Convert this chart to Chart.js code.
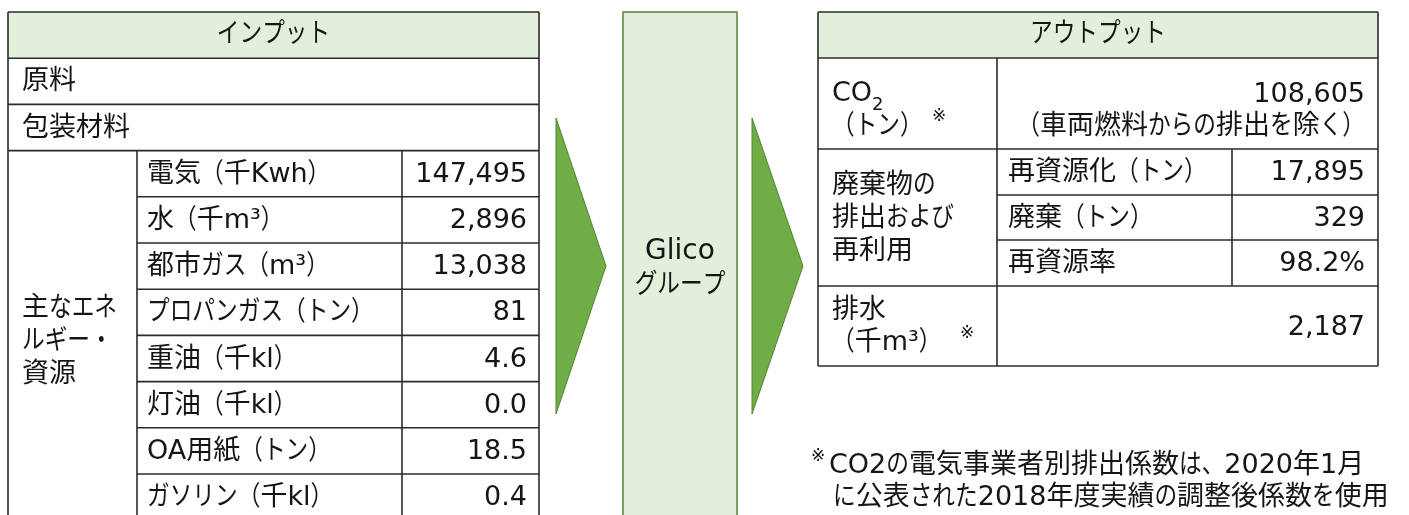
<!DOCTYPE html>
<html lang="ja">
  <head>
    <meta charset="UTF-8" />
    <title>インプット・アウトプット</title>
    <script src="https://cdn.jsdelivr.net/npm/chart.js"></script>
    <style>
      body { margin: 0; background: #fff; }
      #wrap { width: 1409px; height: 515px; }
    </style>
  </head>
  <body>
    <div id="wrap"><canvas id="flowChart"></canvas></div>

    <script>
      // 表の中身 (インプット)
      const inputHeader = "インプット";
      const inputTopRows = ["原料", "包装材料"];
      const energyGroup = ["主なエネ", "ルギー・", "資源"];
      const energyItems = ["電気（千Kwh）", "水（千m³）", "都市ガス（m³）", "プロパンガス（トン）", "重油（千kl）", "灯油（千kl）", "OA用紙（トン）", "ガソリン（千kl）"];
      const energyValues = [147495, 2896, 13038, 81, 4.6, 0.0, 18.5, 0.4];
      const energyDecimals = [0, 0, 0, 0, 1, 1, 1, 1];

      // 中央
      const centerLabel = ["Glico", "グループ"];

      // アウトプット
      const outputHeader = "アウトプット";
      const co2Value = 108605;
      const co2Note = "（車両燃料からの排出を除く）";
      const wasteGroup = ["廃棄物の", "排出および", "再利用"];
      const wasteItems = ["再資源化（トン）", "廃棄（トン）", "再資源率"];
      const wasteValues = [17895, 329, 98.2];
      const wasteSuffix = ["", "", "%"];
      const drainValue = 2187;
      const footNote = ["CO2の電気事業者別排出係数は、2020年1月", "に公表された2018年度実績の調整後係数を使用"];

      const FONT = "'DejaVu Sans', 'Noto Sans CJK JP', sans-serif";
      const TEXT = "#151515";
      const LINE = "#2b2b2b";
      const HEAD_FILL = "#e2efda";
      const GREEN = "#70ad47";
      const GREEN_DARK = "#548235";
      const KANA_SCALE = 0.84; // かな・全角括弧は少し細め

      function fmt(v, d) {
        return d > 0 ? v.toFixed(d) : v.toLocaleString("en-US");
      }

      function isNarrow(ch) {
        const c = ch.charCodeAt(0);
        return (c >= 0x3040 && c <= 0x30ff) || c === 0xff08 || c === 0xff09 || c === 0x3001 || c === 0x3002;
      }

      const diagramPlugin = {
        id: "diagram",
        afterDraw(chart) {
          const { ctx } = chart;
          const sx = chart.scales.x;
          const sy = chart.scales.y;
          const px = (v) => sx.getPixelForValue(v);
          const py = (v) => sy.getPixelForValue(v);

          function hline(x0, x1, y) {
            ctx.beginPath();
            ctx.moveTo(px(x0), py(y));
            ctx.lineTo(px(x1), py(y));
            ctx.stroke();
          }
          function vline(x, y0, y1) {
            ctx.beginPath();
            ctx.moveTo(px(x), py(y0));
            ctx.lineTo(px(x), py(y1));
            ctx.stroke();
          }

          // 文字列を「かな」と「それ以外」に分けて描く
          function text(str, x, y, align, size) {
            ctx.font = (size || 27) + "px " + FONT;
            ctx.textBaseline = "middle";
            ctx.textAlign = "left";
            ctx.fillStyle = TEXT;
            const runs = [];
            for (const ch of str) {
              const s = isNarrow(ch) ? KANA_SCALE : 1;
              if (runs.length && runs[runs.length - 1].s === s) runs[runs.length - 1].t += ch;
              else runs.push({ t: ch, s: s });
            }
            let total = 0;
            runs.forEach((r) => {
              r.w = ctx.measureText(r.t).width * r.s;
              total += r.w;
            });
            let cx = px(x);
            if (align === "center") cx -= total / 2;
            if (align === "right") cx -= total;
            const cy = py(y);
            runs.forEach((r) => {
              ctx.save();
              ctx.translate(cx, cy);
              ctx.scale(r.s, 1);
              ctx.fillText(r.t, 0, 0);
              ctx.restore();
              cx += r.w;
            });
            return total;
          }

          ctx.save();

          // ---- 左の表
          const L = { x0: 8, x1: 539, c1: 137, c2: 402, top: 12, rowH: 46.2 };
          const rowY = (i) => L.top + i * L.rowH;
          ctx.fillStyle = HEAD_FILL;
          ctx.fillRect(px(L.x0), py(rowY(0)), px(L.x1) - px(L.x0), py(rowY(1)) - py(rowY(0)));
          ctx.strokeStyle = LINE;
          ctx.lineWidth = 1.6;
          hline(L.x0, L.x1, rowY(0));
          hline(L.x0, L.x1, rowY(1));
          hline(L.x0, L.x1, rowY(2));
          hline(L.x0, L.x1, rowY(3));
          for (let i = 1; i <= energyItems.length; i++) hline(L.c1, L.x1, rowY(3 + i));
          vline(L.x0, rowY(0), 530);
          vline(L.x1, rowY(0), 530);
          vline(L.c1, rowY(3), 530);
          vline(L.c2, rowY(3), 530);

          text(inputHeader, (L.x0 + L.x1) / 2, rowY(0.5), "center");
          inputTopRows.forEach((t, i) => text(t, 22, rowY(1.5 + i) + 1));
          energyItems.forEach((t, i) => {
            text(t, 147, rowY(3.5 + i) + 1);
            text(fmt(energyValues[i], energyDecimals[i]), 527, rowY(3.5 + i) + 1, "right");
          });
          energyGroup.forEach((t, i) => text(t, 22, 309 + i * 33));

          // ---- 矢印
          ctx.fillStyle = GREEN;
          ctx.strokeStyle = GREEN_DARK;
          ctx.lineWidth = 1;
          [[556, 606], [752, 803]].forEach(([x0, tip]) => {
            ctx.beginPath();
            ctx.moveTo(px(x0), py(118));
            ctx.lineTo(px(tip), py(266));
            ctx.lineTo(px(x0), py(414));
            ctx.closePath();
            ctx.fill();
            ctx.stroke();
          });

          // ---- 中央の箱
          ctx.fillStyle = HEAD_FILL;
          ctx.fillRect(px(623), py(12), px(737) - px(623), py(530) - py(12));
          ctx.strokeStyle = GREEN_DARK;
          ctx.lineWidth = 1.5;
          ctx.strokeRect(px(623), py(12), px(737) - px(623), py(530) - py(12));
          text(centerLabel[0], 680, 252, "center", 28);
          text(centerLabel[1], 680, 286, "center");

          // ---- 右の表
          const R = { x0: 818, x1: 1378, c1: 997, c2: 1232, rows: [12, 58, 149, 195, 240, 286, 366] };
          ctx.fillStyle = HEAD_FILL;
          ctx.fillRect(px(R.x0), py(R.rows[0]), px(R.x1) - px(R.x0), py(R.rows[1]) - py(R.rows[0]));
          ctx.strokeStyle = LINE;
          ctx.lineWidth = 1.6;
          [0, 1, 2, 5, 6].forEach((k) => hline(R.x0, R.x1, R.rows[k]));
          [3, 4].forEach((k) => hline(R.c1, R.x1, R.rows[k]));
          vline(R.x0, R.rows[0], R.rows[6]);
          vline(R.x1, R.rows[0], R.rows[6]);
          vline(R.c1, R.rows[1], R.rows[6]);
          vline(R.c2, R.rows[2], R.rows[5]);

          text(outputHeader, (R.x0 + R.x1) / 2, 35, "center");

          // CO2
          const coW = text("CO", 832, 94);
          text("2", 832 + coW, 105, "left", 18);
          text("（トン）", 832, 127);
          text("※", 932, 117, "left", 17);
          text(fmt(co2Value, 0), 1365, 95, "right");
          text(co2Note, 1365, 127, "right");

          // 廃棄物
          wasteGroup.forEach((t, i) => text(t, 832, 186 + i * 33));
          wasteItems.forEach((t, i) => {
            const yc = (R.rows[2 + i] + R.rows[3 + i]) / 2 + 1;
            text(t, 1008, yc);
            text(fmt(wasteValues[i], wasteSuffix[i] ? 1 : 0) + wasteSuffix[i], 1365, yc, "right");
          });

          // 排水
          text("排水", 832, 311);
          text("（千m³）", 832, 343);
          text("※", 960, 334, "left", 17);
          text(fmt(drainValue, 0), 1365, 328, "right");

          // 注記
          text("※", 811, 457, "left", 17);
          text(footNote[0], 829, 466);
          text(footNote[1], 833, 498);

          ctx.restore();
        },
      };

      new Chart(document.getElementById("flowChart"), {
        type: "scatter",
        data: { datasets: [{ data: [] }] },
        options: {
          responsive: true,
          maintainAspectRatio: false,
          animation: false,
          layout: { padding: 0 },
          plugins: { legend: { display: false }, tooltip: { enabled: false } },
          scales: {
            x: { display: false, min: 0, max: 1409 },
            y: { display: false, min: 0, max: 515, reverse: true },
          },
        },
        plugins: [diagramPlugin],
      });
    </script>
  </body>
</html>
